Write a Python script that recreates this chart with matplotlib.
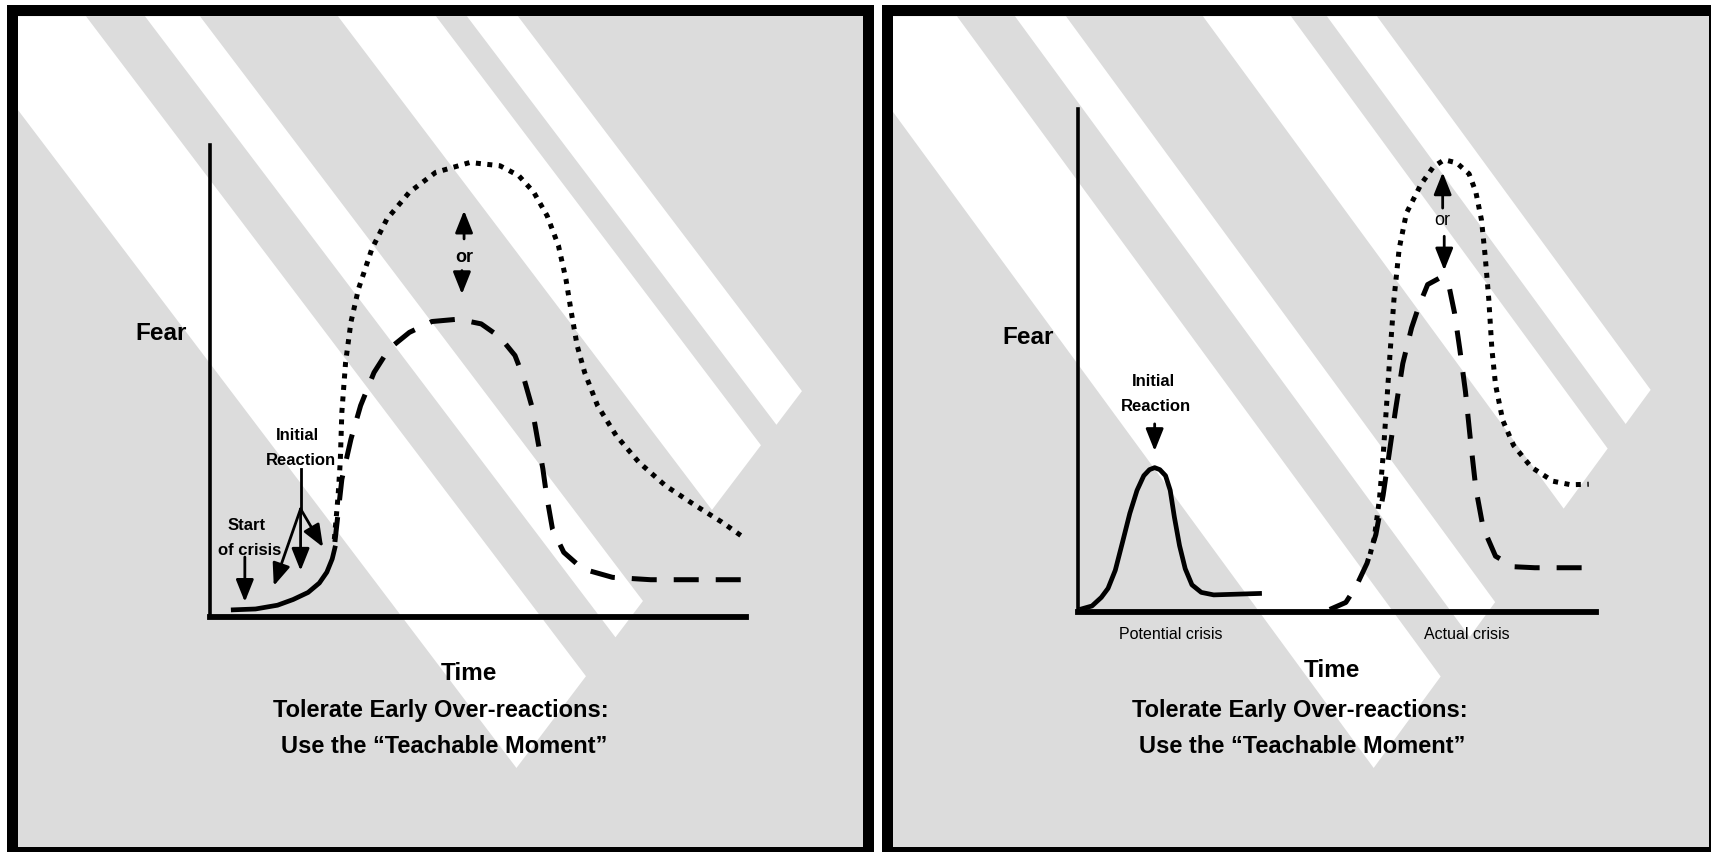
import matplotlib
matplotlib.use("Agg")
import matplotlib.pyplot as plt
from matplotlib import font_manager
from matplotlib.patches import Rectangle, Polygon

left_solid_t = [3.9, 8.5, 12.6, 15.5, 18.3, 20.4, 21.8, 22.8, 23.4]
left_solid_f = [1.5, 1.7, 2.5, 3.7, 5.2, 7.2, 9.5, 12.3, 15.1]

left_dotted_t = [23.2, 23.9, 24.3, 24.6, 25.3, 26.3, 27.7, 30.2, 33.0, 37.2, 42.1, 48.5, 54.1, 57.6,
                 60.4, 62.9, 65.0, 66.4, 67.4, 68.5, 69.9, 72.3, 75.8, 80.0, 85.0, 90.6, 95.5, 100.0]
left_dotted_f = [16.5, 25.7, 32.8, 43.4, 54.0, 62.5, 69.5, 78.0, 84.3, 90.0, 94.2, 96.3, 95.6, 93.5,
                 90.0, 85.0, 78.7, 71.6, 64.6, 57.5, 51.8, 44.8, 38.4, 32.8, 27.8, 23.6, 20.1, 16.5]

left_dashed_t = [23.3, 24.6, 26.3, 28.1, 30.6, 33.4, 37.2, 41.4, 46.3, 50.6, 54.1, 56.9, 58.6, 60.0,
                 61.1, 62.1, 62.8, 63.9, 66.0, 69.5, 75.1, 82.2, 100.0]
left_dashed_f = [15.9, 29.2, 37.7, 44.8, 51.8, 56.8, 60.3, 62.6, 63.1, 62.1, 59.3, 55.4, 50.4, 44.8,
                 37.7, 31.4, 25.7, 18.6, 13.7, 10.2, 8.4, 7.9, 7.9]

right_solid_t = [0.3, 2.7, 4.5, 5.8, 7.2, 8.6, 10.0, 11.4, 12.7, 13.8, 14.8, 15.8, 16.9, 17.8,
                 18.6, 19.6, 20.7, 22.0, 23.8, 26.2, 35.5]
right_solid_f = [0.5, 1.2, 2.9, 4.7, 8.3, 13.9, 19.6, 24.2, 27.1, 28.3, 28.7, 28.3, 27.1, 24.2,
                 18.9, 13.2, 8.6, 5.4, 3.9, 3.4, 3.7]

right_dashed_t = [48.6, 51.7, 53.7, 55.8, 57.5, 58.9, 60.0, 61.3, 62.7, 64.4, 65.8, 67.5, 70.0, 71.7,
                  72.7, 73.7, 74.8, 75.8, 76.8, 78.2, 80.6, 84.1, 88.2, 97.9]
right_dashed_f = [0.5, 1.9, 5.1, 9.7, 15.4, 23.2, 31.0, 40.2, 49.4, 56.5, 60.8, 65.1, 66.5, 64.4,
                  59.4, 52.3, 43.8, 33.8, 24.6, 16.8, 11.1, 9.0, 8.8, 8.8]

right_dotted_t = [56.4, 57.2, 58.2, 58.9, 59.6, 60.3, 61.0, 62.0, 63.4, 66.2, 68.6, 70.7, 73.1, 75.5,
                  76.8, 77.9, 78.6, 79.3, 79.9, 80.6, 82.0, 84.1, 87.5, 91.7, 95.1, 98.6]
right_dotted_f = [11.5, 14.7, 22.5, 31.0, 41.6, 52.3, 62.2, 72.2, 79.3, 85.0, 88.5, 89.9, 89.3, 87.1,
                  83.5, 77.9, 70.8, 62.2, 52.3, 45.2, 38.1, 33.1, 28.8, 26.0, 25.3, 25.4]

caption = ["Tolerate Early Over-reactions:", "Use the \u201cTeachable Moment\u201d"]
crisis_labels = ["Potential crisis", "Actual crisis"]

GRAY = "#dcdcdc"


def pick_font(names):
    for n in names:
        try:
            font_manager.findfont(font_manager.FontProperties(family=n), fallback_to_default=False)
            return n
        except ValueError:
            pass
    return "DejaVu Sans"


FONT = pick_font(["Liberation Sans Narrow", "Arial Narrow", "Liberation Sans"])

fig = plt.figure(figsize=(17.11, 8.53), dpi=100)
fig.patch.set_facecolor("white")

# background: frames and the diagonal white stripes, in pixel units
bg = fig.add_axes([0, 0, 1, 1])
bg.set_xlim(0, 1711)
bg.set_ylim(853, 0)
bg.axis("off")


def draw_panel(outer, inner, bands, slope, c_end):
    x0, y0, x1, y1 = outer
    bg.add_patch(Rectangle((x0, y0), x1 - x0, y1 - y0, fc="black", ec="none"))
    ix0, iy0, ix1, iy1 = inner
    box = Rectangle((ix0, iy0), ix1 - ix0, iy1 - iy0, fc=GRAY, ec="none")
    bg.add_patch(box)
    for xl, xr in bands:
        # band edges run down-right with 'slope', cut off by x + y/slope = c_end
        yr = (slope * (c_end - xr) + iy0) / 2
        yl = (slope * (c_end - xl) + iy0) / 2
        pts = [(xl, iy0), (xr, iy0), (c_end - yr / slope, yr), (c_end - yl / slope, yl)]
        p = Polygon(pts, closed=True, fc="white", ec="none")
        bg.add_patch(p)
        p.set_clip_path(box)


draw_panel((7, 6, 874, 860), (18, 17.3, 863.3, 848.3),
           [(-53, 86), (145, 200), (338, 436), (467, 518)], 1.32, 1099)
draw_panel((882, 6, 1725, 860), (893, 17.3, 1709.3, 848.3),
           [(823, 957), (1015, 1066), (1203, 1291), (1327, 1377)], 1.365, 1937)


def chart_axes(px_left, px_right, px_bottom, px_top):
    W, H = 1711.0, 853.0
    ax = fig.add_axes([px_left / W, (H - px_bottom) / H,
                       (px_right - px_left) / W, (px_bottom - px_top) / H])
    ax.set_xlim(0, 100)
    ax.set_ylim(0, 100)
    ax.patch.set_visible(False)
    for s in ["top", "right"]:
        ax.spines[s].set_visible(False)
    ax.spines["left"].set_linewidth(2.6)
    ax.spines["bottom"].set_linewidth(4.2)
    ax.set_xticks([])
    ax.set_yticks([])
    return ax


def arrow(ax, tail, tip):
    ax.annotate("", xy=tip, xytext=tail, xycoords="data", textcoords="data",
                annotation_clip=False,
                arrowprops=dict(arrowstyle="-|>,head_length=0.75,head_width=0.3",
                                lw=2.0, color="black", shrinkA=0, shrinkB=0,
                                mutation_scale=18))


def label(ax, x, y, s, size, weight="bold"):
    ax.text(x, y, s, ha="center", va="baseline", fontsize=size, fontweight=weight,
            family=[FONT, "DejaVu Sans"], color="black", clip_on=False)


def curves(ax, solid, dashed, dotted):
    ax.plot(*dotted, color="black", lw=3.6, ls=(0, (1, 1.3)), dash_capstyle="butt", clip_on=False)
    ax.plot(*dashed, color="black", lw=3.6, ls=(0, (5.0, 3.4)), dash_capstyle="butt", clip_on=False)
    ax.plot(*solid, color="black", lw=3.4, solid_capstyle="butt", solid_joinstyle="round",
            clip_on=False)


# ---- left sketch ----
axl = chart_axes(210, 746, 618, 146)
curves(axl, (left_solid_t, left_solid_f), (left_dashed_t, left_dashed_f),
       (left_dotted_t, left_dotted_f))
label(axl, -9.1, 58.9, "Fear", 17.5)
label(axl, 48.3, -13.1, "Time", 17.5)
label(axl, 43.1, -21.0, caption[0], 17)
label(axl, 43.7, -28.7, caption[1], 17)
label(axl, 6.9, 18.6, "Start", 12)
label(axl, 7.3, 13.3, "of crisis", 12)
arrow(axl, (6.5, 12.7), (6.5, 3.2))
label(axl, 16.4, 37.7, "Initial", 12)
label(axl, 16.9, 32.4, "Reaction", 12)
axl.plot([16.9, 16.9], [31.4, 22.9], color="black", lw=2.0, clip_on=False)
for tip in [(11.9, 6.6), (16.9, 9.8), (21.1, 14.8)]:
    arrow(axl, (16.9, 22.9), tip)
arrow(axl, (47.4, 80.1), (47.4, 86.1))
label(axl, 47.4, 75.5, "or", 13)
arrow(axl, (47.0, 73.4), (47.0, 68.4))

# ---- right sketch ----
axr = chart_axes(1078, 1596, 613, 110)
curves(axr, (right_solid_t, right_solid_f), (right_dashed_t, right_dashed_f),
       (right_dotted_t, right_dotted_f))
label(axr, -9.6, 53.5, "Fear", 17.5)
label(axr, 49.0, -12.7, "Time", 17.5)
label(axr, 42.9, -20.7, caption[0], 17)
label(axr, 43.2, -27.9, caption[1], 17)
label(axr, 14.6, 45.2, "Initial", 12)
label(axr, 15.0, 40.2, "Reaction", 12)
arrow(axr, (14.8, 37.4), (14.8, 32.0))
arrow(axr, (70.4, 80.3), (70.4, 87.4))
label(axr, 70.4, 77.1, "or", 13, weight="normal")
arrow(axr, (70.7, 74.7), (70.7, 67.9))
label(axr, 17.9, -5.2, crisis_labels[0], 11.5, weight="normal")
label(axr, 75.1, -5.2, crisis_labels[1], 11.5, weight="normal")

fig.savefig("out.png", dpi=100)
